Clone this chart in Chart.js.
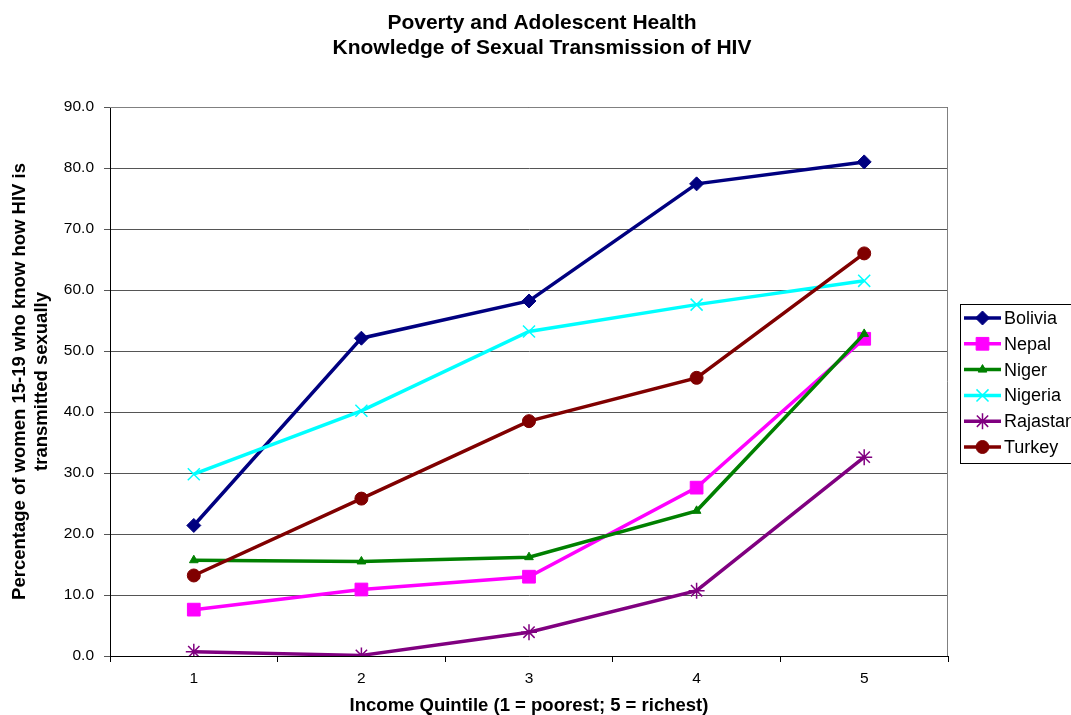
<!DOCTYPE html>
<html>
<head>
<meta charset="utf-8">
<script src="https://cdn.jsdelivr.net/npm/chart.js@4"></script>
<style>
  html, body { margin: 0; padding: 0; background: #fff; }
  #wrap { width: 1071px; height: 715px; }
</style>
</head>
<body>
<div id="wrap"><canvas id="hivChart" width="1071" height="715"></canvas></div>
<script>
// --- Data ---
const quintiles = ['1', '2', '3', '4', '5'];
const bolivia  = [21.4, 52.1, 58.2, 77.4, 81.0];
const nepal    = [7.6, 10.9, 13.0, 27.6, 52.0];
const niger    = [15.7, 15.5, 16.2, 23.8, 52.8];
const nigeria  = [29.8, 40.2, 53.2, 57.6, 61.5];
const rajastan = [0.7, 0.1, 3.9, 10.7, 32.6];
const turkey   = [13.2, 25.8, 38.5, 45.6, 66.0];
const titleLines = ['Poverty and Adolescent Health', 'Knowledge of Sexual Transmission of HIV'];

const FONT = 'Arial, "Liberation Sans", sans-serif';

function series(label, data, color, style, radius, order) {
    const thin = style === 'crossRot' || style === 'star';
    return {
        label, data, order,
        borderColor: color,
        backgroundColor: color,
        borderWidth: 3.5,
        pointStyle: style,
        pointRadius: radius,
        pointBorderWidth: thin ? 1.5 : 1,
        pointBorderColor: color,
        pointBackgroundColor: color,
        tension: 0
    };
}

const datasets = [
    series('Bolivia', bolivia, '#000080', 'rectRot', 7, 6),
    series('Nepal', nepal, '#ff00ff', 'rect', 9, 5),
    series('Niger', niger, '#008000', 'triangle', 5, 4),
    series('Nigeria', nigeria, '#00ffff', 'crossRot', 8.5, 3),
    series('Rajastan', rajastan, '#800080', 'star', 8, 2),
    series('Turkey', turkey, '#800000', 'circle', 6.5, 1)
];

function drawMarker(ctx, ds, x, y) {
    ctx.fillStyle = ds.pointBackgroundColor;
    ctx.strokeStyle = ds.pointBorderColor;
    ctx.lineWidth = ds.pointBorderWidth;
    Chart.helpers.drawPoint(ctx, {
        pointStyle: ds.pointStyle,
        radius: ds.pointRadius,
        borderWidth: ds.pointBorderWidth,
        rotation: 0
    }, x, y);
}

// --- Title, plot frame and legend box ---
const framePlugin = {
    id: 'frame',
    afterDraw(chart) {
        const { ctx, chartArea: a } = chart;
        ctx.save();

        // title (centred on the whole picture, not the plot)
        ctx.fillStyle = '#000';
        ctx.font = 'bold 21px ' + FONT;
        ctx.textAlign = 'center';
        ctx.textBaseline = 'middle';
        ctx.fillText(titleLines[0], 542, 23);
        ctx.fillText(titleLines[1], 542, 48);

        // grey frame top/right
        ctx.strokeStyle = '#808080';
        ctx.lineWidth = 1;
        ctx.beginPath();
        ctx.moveTo(a.left, a.top + 0.5);
        ctx.lineTo(a.right - 0.5, a.top + 0.5);
        ctx.lineTo(a.right - 0.5, a.bottom);
        ctx.stroke();

        // legend
        const x0 = 960, y0 = 304, w = 130, h = 159, step = 25.8;
        ctx.strokeStyle = '#000';
        ctx.strokeRect(x0 + 0.5, y0 + 0.5, w, h);
        ctx.font = '18px ' + FONT;
        ctx.textAlign = 'left';
        chart.data.datasets.forEach((ds, i) => {
            const y = y0 + 14 + i * step;
            ctx.strokeStyle = ds.borderColor;
            ctx.lineWidth = 3.5;
            ctx.beginPath();
            ctx.moveTo(964, y);
            ctx.lineTo(1001, y);
            ctx.stroke();
            drawMarker(ctx, ds, 982.5, y);
            ctx.fillStyle = '#000';
            ctx.fillText(ds.label, 1004, y + 1);
        });
        ctx.restore();
    }
};

const ctx = document.getElementById('hivChart').getContext('2d');
new Chart(ctx, {
    type: 'line',
    data: { labels: quintiles, datasets },
    plugins: [framePlugin],
    options: {
        responsive: false,
        animation: false,
        layout: { padding: { left: 0, right: 123, top: 107, bottom: 0 } },
        plugins: {
            legend: { display: false },
            tooltip: { enabled: false },
            title: { display: false }
        },
        scales: {
            x: {
                offset: true,
                grid: { offset: true, drawOnChartArea: false, color: '#000', tickLength: 6 },
                border: { color: '#000', width: 1 },
                ticks: { color: '#000', font: { family: FONT, size: 15.5 }, padding: 7 },
                title: {
                    display: true,
                    text: 'Income Quintile (1 = poorest; 5 = richest)',
                    color: '#000',
                    font: { family: FONT, size: 18.5, weight: 'bold', lineHeight: 1 },
                    padding: { top: 0, bottom: 0 }
                },
                afterFit(scale) { scale.height = 59; }
            },
            y: {
                min: 0,
                max: 90,
                ticks: {
                    stepSize: 10,
                    color: '#000',
                    font: { family: FONT, size: 15.5 },
                    padding: 10,
                    callback: v => v.toFixed(1)
                },
                grid: { color: '#555', tickLength: 6 },
                border: { color: '#000', width: 1 },
                title: {
                    display: true,
                    text: ['Percentage of women 15-19 who know how HIV is', 'transmitted sexually'],
                    color: '#000',
                    font: { family: FONT, size: 18.5, weight: 'bold', lineHeight: 1.15 },
                    padding: { top: 9.5, bottom: 0 }
                },
                afterFit(scale) { scale.width = 110; }
            }
        }
    }
});
</script>
</body>
</html>
